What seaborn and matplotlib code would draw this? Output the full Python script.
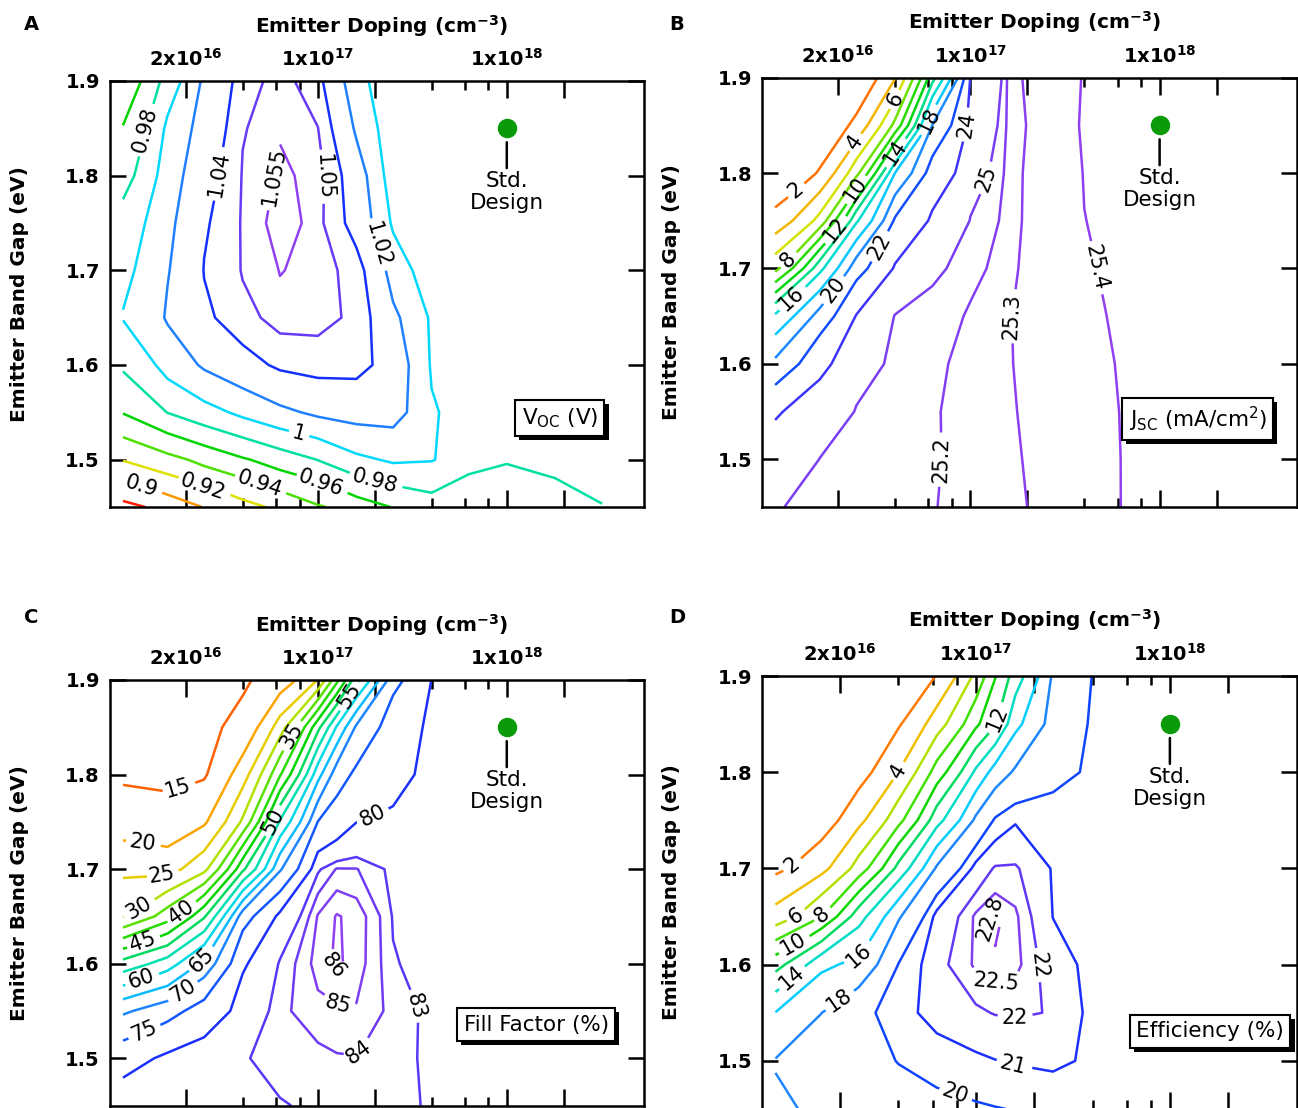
import numpy as np
import matplotlib
matplotlib.use("Agg")
import matplotlib.pyplot as plt
import matplotlib.patheffects as pe
from matplotlib.colors import LinearSegmentedColormap, Normalize
from matplotlib.ticker import FixedLocator, FixedFormatter, NullFormatter
import seaborn as sns

sns.set_style("ticks")
plt.rcParams["font.family"] = ["DejaVu Sans"]
plt.rcParams["mathtext.fontset"] = "dejavusans"
for key in ["text.color", "axes.labelcolor", "xtick.color", "ytick.color", "axes.edgecolor"]:
    plt.rcParams[key] = "black"

# simulation grid: emitter doping (cm^-3) and emitter band gap (eV), rows top -> bottom
doping_ab = [9.3e15, 1.6e16, 2.5e16, 4.0e16, 6.3e16, 1.0e17, 1.6e17, 2.5e17,
             4.0e17, 6.3e17, 1.0e18, 1.8e18, 3.2e18]
doping_cd = [9.3e15, 1.6e16, 2.5e16, 4.0e16, 6.3e16, 1.0e17, 1.26e17, 1.6e17,
             2.5e17, 4.0e17, 6.3e17, 1.0e18, 1.8e18, 3.2e18]
band_gap = [1.90, 1.85, 1.80, 1.75, 1.70, 1.65, 1.60, 1.55, 1.50, 1.45]

# A: open circuit voltage (V)
z_voc = [
    [0.945, 0.989, 1.024, 1.047, 1.053, 1.044, 1.006, 0.985, 0.990, 0.990, 0.990, 0.990, 0.990],
    [0.961, 1.004, 1.030, 1.0495, 1.0545, 1.0502, 1.017, 0.985, 0.990, 0.990, 0.990, 0.990, 0.990],
    [0.972, 1.011, 1.035, 1.0506, 1.056, 1.053, 1.030, 0.988, 0.990, 0.990, 0.990, 0.990, 0.990],
    [0.988, 1.016, 1.0385, 1.051, 1.058, 1.0522, 1.0335, 0.997, 0.990, 0.990, 0.990, 0.990, 0.990],
    [0.995, 1.019, 1.0405, 1.0507, 1.0552, 1.0533, 1.046, 1.012, 0.985, 0.990, 0.990, 0.990, 0.990],
    [1.001, 1.022, 1.0377, 1.0474, 1.0535, 1.0525, 1.048, 1.024, 0.997, 0.990, 0.990, 0.990, 0.990],
    [0.983, 1.008, 1.023, 1.0345, 1.043, 1.046, 1.045, 1.032, 0.998, 0.992, 0.990, 0.990, 0.990],
    [0.961, 0.9805, 0.993, 1.005, 1.016, 1.024, 1.028, 1.028, 1.002, 0.990, 0.990, 0.990, 0.990],
    [0.921, 0.934, 0.946, 0.958, 0.9696, 0.9805, 0.996, 1.003, 1.001, 0.988, 0.9805, 0.983, 0.984],
    [0.874, 0.888, 0.901, 0.913, 0.9255, 0.938, 0.950, 0.961, 0.971, 0.962, 0.975, 0.9753, 0.9797],
]

# B: short circuit current (mA/cm^2)
z_jsc = [
    [0.05, 0.1, 0.2, 3.9, 13.3, 24.06, 25.275, 25.355, 25.405, 25.43, 25.44, 25.45, 25.46],
    [0.1, 0.3, 2.56, 8.57, 20.05, 24.5, 25.265, 25.35, 25.41, 25.43, 25.44, 25.45, 25.46],
    [0.2, 2.2, 7.4, 18.05, 23.05, 24.8, 25.277, 25.348, 25.403, 25.425, 25.435, 25.445, 25.455],
    [2.7, 6.7, 15.75, 22.33, 24.27, 25.02, 25.28, 25.346, 25.399, 25.42, 25.43, 25.44, 25.45],
    [7.4, 15.5, 21.3, 24.19, 24.93, 25.15, 25.288, 25.344, 25.394, 25.415, 25.425, 25.435, 25.445],
    [16.4, 20.9, 24.1, 25.03, 25.12, 25.222, 25.297, 25.343, 25.388, 25.41, 25.42, 25.43, 25.44],
    [20.5, 23.7, 24.8, 25.1, 25.176, 25.242, 25.296, 25.339, 25.382, 25.405, 25.415, 25.425, 25.435],
    [23.9, 24.62, 25.03, 25.11, 25.19, 25.245, 25.292, 25.335, 25.378, 25.402, 25.41, 25.42, 25.43],
    [24.47, 25.01, 25.07, 25.13, 25.19, 25.24, 25.287, 25.329, 25.37, 25.401, 25.408, 25.415, 25.425],
    [24.99, 25.05, 25.1, 25.15, 25.195, 25.24, 25.282, 25.323, 25.364, 25.401, 25.405, 25.41, 25.42],
]

# C: fill factor (%)
z_ff = [
    [12.5, 13.0, 13.5, 14.5, 17.0, 25.2, 38.6, 53.5, 73.6, 80.05, 81.0, 81.3, 81.5, 81.6],
    [13.2, 13.5, 14.3, 16.0, 27.5, 48.6, 60.6, 70.9, 77.9, 80.8, 81.2, 81.4, 81.5, 81.6],
    [14.3, 14.2, 14.5, 22.8, 39.5, 63.3, 72.9, 76.0, 79.2, 80.8, 81.2, 81.4, 81.5, 81.6],
    [17.5, 16.4, 19.3, 30.8, 55.6, 75.1, 77.5, 79.95, 80.4, 81.0, 81.3, 81.5, 81.6, 81.6],
    [23.9, 23.2, 28.6, 49.0, 69.5, 82.8, 84.1, 84.05, 82.6, 82.0, 81.7, 81.6, 81.6, 81.6],
    [29.8, 37.8, 49.4, 73.0, 81.1, 85.1, 86.1, 85.6, 82.9, 82.2, 81.9, 81.7, 81.6, 81.6],
    [52.0, 57.7, 67.0, 79.6, 83.2, 85.5, 86.2, 85.5, 83.1, 82.4, 82.0, 81.8, 81.7, 81.6],
    [69.3, 73.3, 77.5, 81.5, 83.8, 84.6, 84.8, 84.9, 83.6, 82.6, 82.1, 81.9, 81.8, 81.7],
    [78.4, 80.9, 82.0, 82.9, 83.5, 83.7, 83.9, 83.95, 83.4, 82.7, 82.2, 82.0, 81.9, 81.8],
    [82.3, 82.3, 82.5, 82.5, 82.9, 83.3, 83.4, 83.4, 83.2, 82.9, 82.3, 82.0, 81.9, 81.8],
]

# D: efficiency (%)
z_eff = [
    [0.2, 0.3, 0.5, 0.8, 2.05, 6.5, 9.9, 13.0, 18.3, 20.05, 20.6, 20.8, 20.9, 20.9],
    [0.3, 0.5, 1.0, 1.8, 5.1, 9.6, 11.9, 15.5, 18.9, 20.2, 20.6, 20.8, 20.9, 20.9],
    [0.4, 0.8, 1.2, 4.1, 8.9, 14.4, 16.9, 18.3, 19.5, 20.3, 20.6, 20.8, 20.9, 20.9],
    [0.6, 1.0, 3.5, 7.4, 13.3, 18.4, 20.2, 20.9, 20.7, 20.6, 20.6, 20.7, 20.8, 20.9],
    [1.6, 3.4, 6.9, 12.7, 18.3, 21.4, 22.1, 22.1, 20.9, 20.7, 20.6, 20.6, 20.7, 20.8],
    [4.8, 8.1, 13.3, 17.8, 21.4, 22.6, 22.88, 22.6, 20.98, 20.7, 20.6, 20.6, 20.6, 20.7],
    [11.3, 15.6, 16.6, 20.05, 21.8, 22.6, 22.75, 22.65, 21.5, 20.6, 20.6, 20.6, 20.6, 20.6],
    [16.05, 17.98, 19.6, 20.7, 21.37, 21.87, 22.05, 22.1, 21.95, 20.6, 20.5, 20.5, 20.5, 20.5],
    [18.1, 18.9, 19.5, 20.05, 20.5, 20.8, 20.97, 21.1, 21.2, 20.8, 20.6, 20.5, 20.5, 20.5],
    [17.7, 18.4, 18.9, 19.3, 19.6, 19.85, 19.95, 20.05, 20.3, 20.4, 20.4, 20.4, 20.4, 20.4],
]

levels_voc = [0.88, 0.9, 0.92, 0.94, 0.96, 0.98, 1.0, 1.02, 1.04, 1.05, 1.055]
levels_jsc = [2, 4, 6, 8, 10, 12, 14, 16, 18, 20, 22, 24, 25, 25.2, 25.3, 25.4]
levels_ff = [10, 15, 20, 25, 30, 35, 40, 45, 50, 55, 60, 65, 70, 75, 80, 83, 84, 85, 86]
levels_eff = [2, 4, 6, 8, 10, 12, 14, 16, 18, 20, 21, 22, 22.5, 22.8]

std_doping = 1e18
std_gap = 1.85

top_ticks = [2e16, 1e17, 2e17, 1e18, 2e18]
top_tick_labels = [r"$\mathbf{2x10^{16}}$", r"$\mathbf{1x10^{17}}$", "",
                   r"$\mathbf{1x10^{18}}$", ""]
minor_ticks = [4e16, 6e16, 8e16, 4e17, 6e17, 8e17]
gap_ticks = [1.5, 1.6, 1.7, 1.8, 1.9]

# inline contour labels: (level, doping, band gap) near where each one sits
spots_a = [(0.98, 1.23e16, 1.848), (1.04, 2.75e16, 1.803), (1.055, 5.7e16, 1.799),
           (1.05, 1.07e17, 1.799), (1.02, 2.07e17, 1.727), (1.0, 7.9e16, 1.527),
           (0.9, 1.17e16, 1.472), (0.92, 2.42e16, 1.468), (0.94, 4.9e16, 1.474),
           (0.96, 1.02e17, 1.472), (0.98, 2.0e17, 1.479)]
spots_b = [(2, 1.17e16, 1.784), (4, 2.42e16, 1.833), (6, 3.9e16, 1.878),
           (8, 1.17e16, 1.703), (10, 2.42e16, 1.784), (12, 1.87e16, 1.743),
           (14, 3.9e16, 1.823), (16, 1.17e16, 1.666), (18, 6.3e16, 1.854),
           (20, 1.87e16, 1.678), (22, 3.05e16, 1.727), (24, 9.0e16, 1.851),
           (25, 1.05e17, 1.80), (25.2, 6.65e16, 1.50), (25.3, 1.61e17, 1.65),
           (25.4, 4.2e17, 1.699)]
spots_c = [(15, 1.93e16, 1.770), (20, 1.17e16, 1.72), (25, 1.5e16, 1.69),
           (30, 1.17e16, 1.653), (35, 7.95e16, 1.837), (40, 1.93e16, 1.653),
           (45, 1.2e16, 1.62), (50, 5.6e16, 1.752), (55, 1.57e17, 1.879),
           (60, 1.17e16, 1.583), (65, 2.42e16, 1.604), (70, 1.88e16, 1.574),
           (75, 1.17e16, 1.533), (80, 2.02e17, 1.75), (83, 2.74e17, 1.549),
           (84, 1.61e17, 1.507), (85, 1.28e17, 1.558), (86, 1.25e17, 1.60)]
spots_d = [(2, 1.19e16, 1.698), (4, 3.9e16, 1.802), (6, 1.19e16, 1.65),
           (8, 1.6e16, 1.652), (10, 1.19e16, 1.616), (12, 1.27e17, 1.856),
           (14, 1.19e16, 1.581), (16, 2.5e16, 1.61), (18, 1.95e16, 1.565),
           (20, 8.1e16, 1.473), (21, 1.55e17, 1.494), (22, 1.58e17, 1.543),
           (22, 2.24e17, 1.60), (22.5, 1.27e17, 1.582), (22.8, 1.15e17, 1.648)]

cmap = LinearSegmentedColormap.from_list("igor_rainbow", [
    (0.00, "#ff1a00"), (0.12, "#ff9f00"), (0.23, "#dde200"), (0.35, "#3fe000"),
    (0.46, "#00d400"), (0.57, "#00e0a0"), (0.69, "#00d8ff"), (0.80, "#1f80ff"),
    (0.91, "#0a2dff"), (1.00, "#9040f0")])

fig = plt.figure(figsize=(12.98, 11.08), dpi=100)


def draw_panel(rect, letter, letter_xy, doping, z, levels, vmin, vmax, spots,
               box_text, box_xy, xmax):
    ax = fig.add_axes(rect)
    ax.set_xscale("log")
    ax.set_xlim(7.9e15, xmax)
    ax.set_ylim(1.45, 1.9)

    X, Y = np.meshgrid(doping, band_gap)
    Z = np.array(z)
    norm = Normalize(vmin, vmax)
    # one contour set per level, so each label lands on its own line
    for lev in levels:
        cs = ax.contour(X, Y, Z, levels=[lev], colors=[cmap(norm(lev))], linewidths=1.8)
        here = [(x, y) for l, x, y in spots if l == lev]
        if here:
            ax.clabel(cs, inline=True, inline_spacing=4, fontsize=15, fmt="%g",
                      colors="black", manual=here)

    # top log axis with Igor-like tick marks
    ax.xaxis.set_major_locator(FixedLocator(top_ticks))
    ax.xaxis.set_major_formatter(FixedFormatter(top_tick_labels))
    ax.xaxis.set_minor_locator(FixedLocator(minor_ticks))
    ax.xaxis.set_minor_formatter(NullFormatter())
    ax.tick_params(axis="x", which="both", direction="in", top=True, bottom=True,
                   labeltop=True, labelbottom=False, width=1.8)
    ax.tick_params(axis="x", which="major", length=12, pad=8, labelsize=14)
    ax.tick_params(axis="x", which="minor", length=6.5)
    ax.set_yticks(gap_ticks)
    ax.set_yticklabels([f"{v:.1f}" for v in gap_ticks], fontweight="bold")
    ax.tick_params(axis="y", direction="in", left=True, right=True, length=11.5,
                   width=1.8, pad=7, labelsize=14)
    for s in ax.spines.values():
        s.set_linewidth(1.8)

    ax.set_xlabel(r"Emitter Doping (cm$^{\mathbf{-3}}$)", fontsize=14.5, fontweight="bold")
    ax.xaxis.set_label_position("top")
    ax.xaxis.set_label_coords(0.51, 1.13)
    ax.xaxis.label.set_va("center")
    ax.set_ylabel("Emitter Band Gap (eV)", fontsize=14.5, fontweight="bold")
    ax.yaxis.set_label_coords(-0.168, 0.5)
    ax.yaxis.label.set_va("center")

    # standard design point
    ax.plot([std_doping], [std_gap], "o", color="#0a9a0a", markersize=13, zorder=5)
    ax.annotate("Std.\nDesign", xy=(std_doping, std_gap), xytext=(0, -31),
                textcoords="offset points", ha="center", va="top", fontsize=15.5,
                linespacing=1.1,
                arrowprops=dict(arrowstyle="-", lw=1.8, color="black",
                                shrinkA=0, shrinkB=10))

    t = ax.text(box_xy[0], box_xy[1], box_text, transform=ax.transAxes, ha="center",
                va="center", fontsize=15.5,
                bbox=dict(boxstyle="square,pad=0.3", fc="white", ec="black", lw=1.5))
    t.get_bbox_patch().set_path_effects([
        pe.SimplePatchShadow(offset=(3, -3), shadow_rgbFace="black", alpha=1.0),
        pe.Normal()])

    fig.text(letter_xy[0], letter_xy[1], letter, fontsize=14, fontweight="bold",
             ha="center", va="center")
    return ax


draw_panel([0.08444, 0.54242, 0.41140, 0.38448], "A", (0.0239, 0.978),
           doping_ab, z_voc, levels_voc, 0.88, 1.055, spots_a,
           r"V$_{\mathrm{OC}}$ (V)", (0.843, 0.209), 5.3e18)
draw_panel([0.58683, 0.54242, 0.41217, 0.38746], "B", (0.5216, 0.978),
           doping_ab, z_jsc, levels_jsc, 0.0, 25.4, spots_b,
           r"J$_{\mathrm{SC}}$ (mA/cm$^{2}$)", (0.815, 0.205), 5.3e18)
draw_panel([0.08444, 0.00217, 0.41140, 0.38412], "C", (0.0239, 0.443),
           doping_cd, z_ff, levels_ff, 10.0, 86.0, spots_c,
           "Fill Factor (%)", (0.799, 0.19), 5.3e18)
draw_panel([0.58683, -0.0009, 0.41217, 0.39079], "D", (0.5216, 0.443),
           doping_cd, z_eff, levels_eff, 0.0, 22.8, spots_d,
           "Efficiency (%)", (0.838, 0.18), 4.5e18)

fig.savefig("out.png", dpi=100)
